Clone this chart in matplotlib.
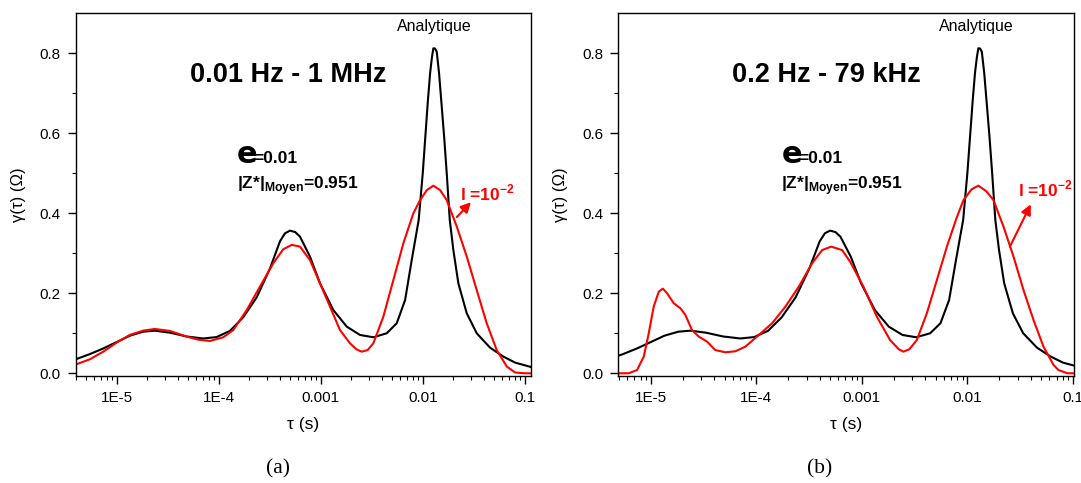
import numpy as np
import matplotlib.pyplot as plt

plt.rcParams['font.family'] = ['Liberation Sans', 'DejaVu Sans']
plt.rcParams['mathtext.fontset'] = 'custom'
plt.rcParams['mathtext.rm'] = 'Liberation Sans'
plt.rcParams['mathtext.bf'] = 'Liberation Sans:bold'

# courbe analytique (identique pour les deux panneaux) : log10(tau), gamma
log_tau_ana = [-5.40, -5.262, -5.131, -5.0, -4.87, -4.739, -4.625, -4.477, -4.314, -4.151,
               -4.02, -3.889, -3.759, -3.627, -3.497, -3.399, -3.35, -3.301, -3.25, -3.203,
               -3.105, -3.007, -2.876, -2.745, -2.615, -2.484, -2.353, -2.255, -2.173, -2.108,
               -2.04, -2.0, -1.977, -1.95, -1.928, -1.91, -1.896, -1.88, -1.863, -1.84,
               -1.814, -1.79, -1.765, -1.735, -1.70, -1.651, -1.569, -1.471, -1.34, -1.21,
               -1.095, -0.93]
gamma_ana = [0.035, 0.048, 0.062, 0.078, 0.094, 0.104, 0.1065, 0.1015, 0.092, 0.087,
             0.0905, 0.106, 0.14, 0.19, 0.262, 0.33, 0.35, 0.3567, 0.353, 0.3417,
             0.2917, 0.225, 0.158, 0.1167, 0.0958, 0.09, 0.1, 0.125, 0.183, 0.283,
             0.383, 0.50, 0.583, 0.68, 0.75, 0.79, 0.8125, 0.812, 0.804, 0.75,
             0.667, 0.59, 0.5, 0.383, 0.308, 0.225, 0.15, 0.1, 0.064, 0.0417,
             0.0267, 0.015]

# (a) 0.01 Hz - 1 MHz
log_tau_a = [-5.40, -5.262, -5.131, -5.0, -4.87, -4.739, -4.625, -4.477, -4.314, -4.2,
             -4.085, -3.955, -3.857, -3.725, -3.595, -3.465, -3.367, -3.284, -3.203, -3.105,
             -3.007, -2.909, -2.811, -2.713, -2.65, -2.598, -2.54, -2.484, -2.386, -2.288,
             -2.19, -2.092, -2.026, -1.96, -1.896, -1.83, -1.765, -1.667, -1.569, -1.471,
             -1.373, -1.275, -1.176, -1.095, -1.0, -0.93]
gamma_a = [0.022, 0.035, 0.054, 0.0767, 0.096, 0.1067, 0.1108, 0.1058, 0.0917, 0.084,
           0.0808, 0.09, 0.108, 0.158, 0.2167, 0.275, 0.31, 0.321, 0.3167, 0.283,
           0.225, 0.1667, 0.108, 0.075, 0.06, 0.054, 0.058, 0.075, 0.1417, 0.233,
           0.325, 0.40, 0.433, 0.458, 0.469, 0.458, 0.433, 0.367, 0.292, 0.208,
           0.125, 0.058, 0.0167, 0.002, 0.0, 0.0]

# (b) 0.2 Hz - 79 kHz
log_tau_b = [-5.367, -5.209, -5.13, -5.066, -5.019, -4.972, -4.924, -4.886, -4.845, -4.782,
             -4.719, -4.672, -4.609, -4.545, -4.466, -4.388, -4.293, -4.198, -4.103, -3.976,
             -3.85, -3.724, -3.597, -3.471, -3.376, -3.29, -3.187, -3.111, -2.985, -2.858,
             -2.732, -2.65, -2.606, -2.55, -2.479, -2.384, -2.289, -2.194, -2.10, -2.037,
             -1.96, -1.895, -1.82, -1.753, -1.658, -1.563, -1.468, -1.373, -1.279, -1.184,
             -1.137, -1.05, -0.98]
gamma_b = [0.0, 0.0, 0.008, 0.0417, 0.1, 0.1667, 0.204, 0.2117, 0.2, 0.175,
           0.1625, 0.1458, 0.108, 0.0917, 0.079, 0.058, 0.0525, 0.055, 0.0667, 0.0958,
           0.125, 0.1667, 0.2167, 0.275, 0.308, 0.3167, 0.308, 0.279, 0.2167, 0.1417,
           0.083, 0.06, 0.054, 0.06, 0.083, 0.15, 0.233, 0.3167, 0.39, 0.433,
           0.46, 0.469, 0.455, 0.433, 0.367, 0.292, 0.208, 0.133, 0.0667, 0.021,
           0.008, 0.0, 0.0]

x_ticks = [1e-5, 1e-4, 1e-3, 1e-2, 1e-1]
x_tick_labels = ['1E-5', '1E-4', '0.001', '0.01', '0.1']
y_ticks = [0.0, 0.2, 0.4, 0.6, 0.8]

panels = [
    dict(rect=[0.0703, 0.2222, 0.4209, 0.7515], xlim=(4.0e-6, 0.115), log_tau=log_tau_a,
         gamma=gamma_a, title='0.01 Hz - 1 MHz', title_x=0.466, e_x=0.353,
         ana_x=0.787, lam_xy=(0.844, 0.484), arr_from=(0.837, 0.437), arr_to=(0.868, 0.478),
         cap='(a)', cap_x=0.257),
    dict(rect=[0.572, 0.2222, 0.4216, 0.7515], xlim=(4.93e-6, 0.1026), log_tau=log_tau_b,
         gamma=gamma_b, title='0.2 Hz - 79 kHz', title_x=0.456, e_x=0.358,
         ana_x=0.785, lam_xy=(0.876, 0.493), arr_from=(0.859, 0.355), arr_to=(0.905, 0.472),
         cap='(b)', cap_x=0.7586),
]

fig = plt.figure(figsize=(10.81, 4.83), dpi=100)

for p in panels:
    ax = fig.add_axes(p['rect'])
    ax.plot(10 ** np.array(log_tau_ana), gamma_ana, color='black', lw=1.5)
    ax.plot(10 ** np.array(p['log_tau']), p['gamma'], color='#ff0000', lw=1.5)
    ax.set_xscale('log')
    ax.set_xlim(*p['xlim'])
    ax.set_ylim(-0.006, 0.9015)
    ax.set_xticks(x_ticks)
    ax.set_xticklabels(x_tick_labels)
    ax.set_yticks(y_ticks)
    ax.set_yticks([0.1, 0.3, 0.5, 0.7], minor=True)
    ax.tick_params(which='major', direction='out', length=5.5, width=1, labelsize=11, pad=5.5)
    ax.tick_params(which='minor', direction='out', length=3, width=0.8)
    for s in ax.spines.values():
        s.set_linewidth(1.0)
    ax.set_xlabel('τ (s)', fontsize=12.5, labelpad=9)
    ax.set_ylabel('γ(τ) (Ω)', fontsize=12, labelpad=10)

    ax.text(p['title_x'], 0.828, p['title'], transform=ax.transAxes, ha='center',
            va='center', fontsize=19.5, fontweight='bold')
    ax.text(p['ana_x'], 0.949, 'Analytique', transform=ax.transAxes, ha='center',
            va='baseline', fontsize=11.5)
    ax.text(p['e_x'], 0.586, 'e', transform=ax.transAxes, ha='left', va='baseline',
            fontsize=22, fontweight='bold', family='DejaVu Sans')
    ax.text(p['e_x'] + 0.036, 0.586, '=0.01', transform=ax.transAxes, ha='left',
            va='baseline', fontsize=12.5, fontweight='bold')
    ax.text(p['e_x'], 0.514, r'|Z*|$_{\mathbf{Moyen}}$=0.951', transform=ax.transAxes,
            ha='left', va='baseline', fontsize=12.5, fontweight='bold')
    ax.text(p['lam_xy'][0], p['lam_xy'][1], r'l =10$^{\mathbf{-2}}$', transform=ax.transAxes,
            ha='left', va='baseline', fontsize=12.5, fontweight='bold', color='#ff0000')
    ax.annotate('', xy=p['arr_to'], xytext=p['arr_from'], xycoords='axes fraction',
                textcoords='axes fraction',
                arrowprops=dict(arrowstyle='-|>,head_length=0.6,head_width=0.3',
                                color='#ff0000', lw=1.5, shrinkA=0, shrinkB=0))

    fig.text(p['cap_x'], 0.03, p['cap'], ha='center', va='center', fontsize=15.5,
             family=['Liberation Serif', 'DejaVu Serif'])

fig.savefig('out.png', dpi=100)
